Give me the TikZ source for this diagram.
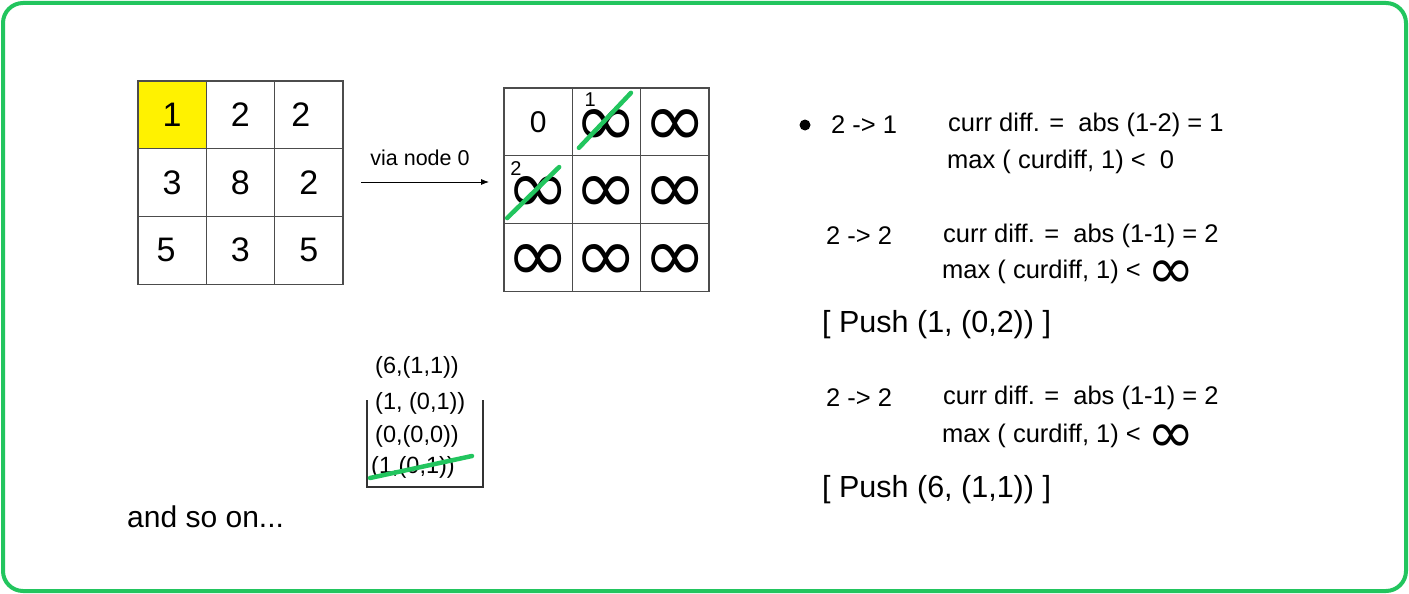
\documentclass[tikz,border=0pt]{standalone}
\usepackage{fontspec}
\setmainfont{Liberation Sans}
\newfontfamily\infont{DejaVu Sans}
\usetikzlibrary{arrows.meta}
\usetikzlibrary{positioning}
\definecolor{markgreen}{RGB}{34,197,94}
\newcommand{\infin}[1][76]{{\fontsize{#1}{#1}\selectfont\infont\raisebox{-0.32em}[0pt][0pt]{∞}}}
\newcommand{\infcell}{\makebox[0pt]{\infin}}
\tikzset{
	frame/.style={draw=markgreen, line width=4pt, rounded corners=20pt},
	cell/.style={draw=black!70, line width=1.2pt, minimum width=68.3pt, minimum height=67.7pt, inner sep=0pt, outer sep=0pt, font=\fontsize{34}{34}\selectfont},
	dcell/.style={cell, font=\fontsize{30}{30}\selectfont},
	tag/.style={inner sep=0pt, font=\fontsize{20}{20}\selectfont},
	strike/.style={draw=markgreen, line width=4.5pt, line cap=round},
	arrow/.style={draw, -{Latex[length=8pt,width=6pt]}, line width=0.8pt},
	txt/.style={anchor=west, inner sep=0pt, font=\fontsize{25.5}{30}\selectfont},
	push/.style={txt, font=\fontsize{30.5}{36}\selectfont},
	stackitem/.style={anchor=west, inner sep=0pt, font=\fontsize{23.5}{28}\selectfont},
	stackline/.style={draw=black!80, line width=2pt}
}
\begin{document}
\begin{tikzpicture}[x=1pt, y=-1pt, node distance=0pt]
\useasboundingbox (0,0) rectangle (1409,594);
\draw[frame] (3,3) rectangle (1406,591);

\node[cell, fill=yellow, anchor=north west] (a11) at (138,81) {1};
\node[cell, right=of a11] (a12) {2};
\node[cell, right=of a12] (a13) {\hspace*{-16pt}2};
\node[cell, below=of a11] (a21) {3};
\node[cell, right=of a21] (a22) {8};
\node[cell, right=of a22] (a23) {2};
\node[cell, below=of a21] (a31) {\hspace*{-12pt}5};
\node[cell, right=of a31] (a32) {3};
\node[cell, right=of a32] (a33) {5};

\coordinate (viastart) at (361,182);
\coordinate (viaend) at (489,182);
\draw[arrow] (viastart) -- (viaend);
\node[inner sep=0pt, font=\fontsize{21.5}{24}\selectfont] (via) at (420,158) {via node 0};

\node[dcell, anchor=north west] (b11) at (504,88) {0};
\node[dcell, right=of b11] (b12) {\infcell};
\node[dcell, right=of b12] (b13) {\infcell};
\node[dcell, below=of b11] (b21) {\infcell};
\node[dcell, right=of b21] (b22) {\infcell};
\node[dcell, right=of b22] (b23) {\infcell};
\node[dcell, below=of b21] (b31) {\infcell};
\node[dcell, right=of b31] (b32) {\infcell};
\node[dcell, right=of b32] (b33) {\infcell};

\node[tag] (tag1) at ([shift={(18,12)}]b12.north west) {1};
\node[tag] (tag2) at ([shift={(12,13)}]b21.north west) {2};
\draw[strike] ([shift={(-27.5,26)}]b12.center) -- ([shift={(24.5,-29)}]b12.center);
\draw[strike] ([shift={(-31,28.5)}]b21.center) -- ([shift={(21,-22.5)}]b21.center);

\node[stackitem] (s1) at (375,367) {(6,(1,1))};
\node[stackitem] (s2) at (375,403) {(1, (0,1))};
\node[stackitem] (s3) at (375,436) {(0,(0,0))};
\node[stackitem] (s4) at (371,467) {(1,(0,1))};
\draw[stackline] (367,400) -- (367,487) -- (483,487) -- (483,400);
\draw[strike] (370,478) -- (472,456);

\node[txt, font=\fontsize{30}{36}\selectfont] (more) at (127,517) {and so on...};

\fill (805,125) circle (5.5);
\node[txt] (e1) at (831,125) {2 -> 1};
\node[txt] (d1) at (948,125) {curr diff. =\ \ abs (1-2) = 1};
\node[txt] (m1) at (947,162) {max ( curdiff, 1) <\ \ 0};
\node[txt] (e2) at (826,236) {2 -> 2};
\node[txt] (d2) at (943,236) {curr diff. =\ \ abs (1-1) = 2};
\node[txt] (m2) at (942,272) {max ( curdiff, 1) < \raisebox{8pt}{\infin[57]}};
\node[push] (p1) at (822,325) {[ Push (1, (0,2)) ]};
\node[txt] (e3) at (826,398) {2 -> 2};
\node[txt] (d3) at (943,398) {curr diff. =\ \ abs (1-1) = 2};
\node[txt] (m3) at (942,436) {max ( curdiff, 1) < \raisebox{8pt}{\infin[57]}};
\node[push] (p2) at (822,490) {[ Push (6, (1,1)) ]};
\end{tikzpicture}
\end{document}
